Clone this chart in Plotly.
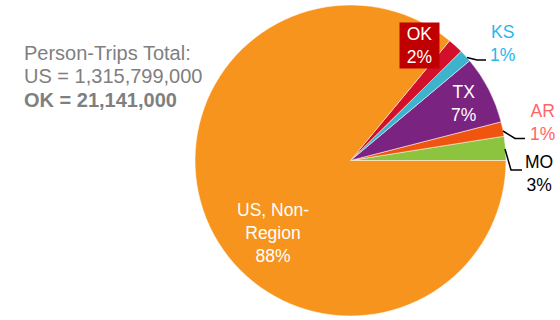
import plotly.graph_objects as go

# Data
labels = ["MO", "AR", "TX", "KS", "OK", "US, Non-Region"]
values = [2.5, 1.5, 7.1, 1.3, 1.6, 86.0]
pct_labels = ["3%", "1%", "7%", "1%", "2%", "88%"]
colors = ["#8CC43F", "#F0550F", "#7B2381", "#3DB3CE", "#D2102A", "#F7941D"]
summary_lines = ["Person-Trips Total:", "US = 1,315,799,000", "OK = 21,141,000"]

W, H = 560, 320
def px(x):
    return x / W
def py(y):
    return 1 - y / H

first_angle = values[0] / sum(values) * 360

fig = go.Figure(go.Pie(
    labels=labels, values=values, sort=False, direction="counterclockwise",
    rotation=90 - first_angle, textinfo="none", hoverinfo="label+percent",
    marker=dict(colors=colors, line=dict(color="white", width=0.5)),
    domain=dict(x=[px(195), px(506)], y=[py(316), py(5)]),
    showlegend=False,
))

FONT = "Liberation Sans, Arial, sans-serif"
ann = []
for i, (line, yy) in enumerate(zip(summary_lines, [53, 76.5, 100])):
    ann.append(dict(
        x=px(22), y=py(yy), xref="paper", yref="paper", xanchor="left", yanchor="middle",
        align="left", showarrow=False,
        text=("<b>" + line + "</b>") if i == 2 else line,
        font=dict(family=FONT, size=20, color="#7F7F7F"),
    ))

label_style = {
    "MO": dict(pos=(539, 173), color="#000000", bg=None),
    "AR": dict(pos=(542, 122), color="#FF6666", bg=None),
    "TX": dict(pos=(463, 103), color="#FFFFFF", bg=None),
    "KS": dict(pos=(502, 44), color="#29B6F0", bg=None),
    "OK": dict(pos=(419.5, 45.5), color="#FFFFFF", bg="#C00000"),
    "US, Non-Region": dict(pos=(273, 233), color="#FFFFFF", bg=None),
}
for lab, pct in zip(labels, pct_labels):
    st = label_style[lab]
    name = "US, Non-<br>Region" if lab == "US, Non-Region" else lab
    a = dict(
        x=px(st["pos"][0]), y=py(st["pos"][1]), xref="paper", yref="paper",
        xanchor="center", yanchor="middle", showarrow=False,
        text=name + "<br>" + pct, align="center",
        font=dict(family=FONT, size=17.5, color=st["color"]),
    )
    if st["bg"]:
        a.update(bgcolor=st["bg"], borderpad=1, width=37)
    ann.append(a)

connectors = [
    [(467, 57.5), (477, 60), (486, 60)],
    [(503, 131), (515, 138.5), (525, 138.5)],
    [(505, 149), (511, 170), (522, 170)],
]
shapes = []
for pts in connectors:
    path = "M " + " L ".join(f"{px(x)},{py(y)}" for x, y in pts)
    shapes.append(dict(type="path", xref="paper", yref="paper", path=path,
                       line=dict(color="#000000", width=1.5)))

fig.update_layout(
    width=W, height=H, margin=dict(l=0, r=0, t=0, b=0),
    paper_bgcolor="white", plot_bgcolor="white",
    annotations=ann, shapes=shapes,
)
fig.write_html("out.html")
